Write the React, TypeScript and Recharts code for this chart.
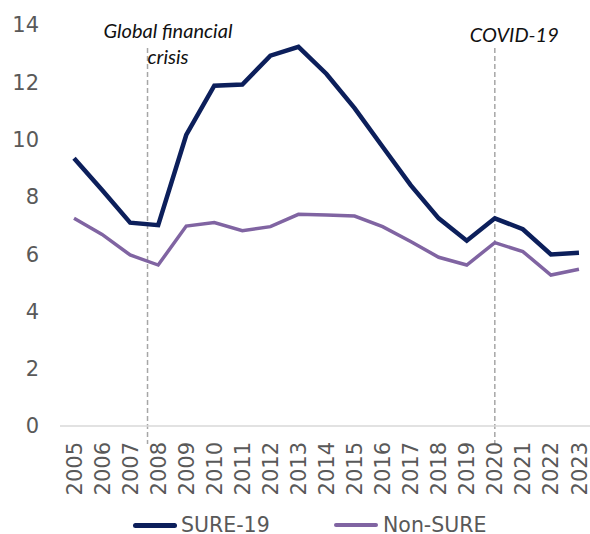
import React from 'react';
import { LineChart, Line, XAxis, YAxis, ReferenceLine, Legend } from 'recharts';

const years = [2005, 2006, 2007, 2008, 2009, 2010, 2011, 2012, 2013, 2014, 2015, 2016, 2017, 2018, 2019, 2020, 2021, 2022, 2023];
const sure19 = [9.35, 8.24, 7.1, 7.01, 10.16, 11.88, 11.92, 12.93, 13.24, 12.29, 11.1, 9.75, 8.41, 7.25, 6.47, 7.25, 6.87, 5.99, 6.05];
const nonSure = [7.25, 6.69, 5.97, 5.62, 6.98, 7.1, 6.82, 6.96, 7.39, 7.37, 7.33, 6.96, 6.44, 5.89, 5.62, 6.4, 6.09, 5.27, 5.47];
const yTicks = [0, 2, 4, 6, 8, 10, 12, 14];
const seriesNames = ['SURE-19', 'Non-SURE'];
const seriesColors = ['#0c1f5b', '#8064a2'];
const gfcX = 2007.62;
const covidX = 2020;
const eventTop = 13.2;
const eventBottom = -0.63;

const data = years.map((yr, i) => ({ year: yr, sure: sure19[i], non: nonSure[i] }));

const FONT = '"DejaVu Sans", Verdana, sans-serif';
const GRAY = '#595959';

const XTick = (props: any) => {
  const { x, y, payload } = props;
  return (
    <text
      x={0}
      y={0}
      dy="0.36em"
      transform={`translate(${x},${y}) rotate(-90)`}
      textAnchor="end"
      fontSize={21}
      fill={GRAY}
      fontFamily={FONT}
    >
      {payload.value}
    </text>
  );
};

const gfcLabel = (props: any) => {
  const vb = props.viewBox || {};
  const cx = vb.x + 20.5;
  return (
    <g>
      <text x={cx} y={vb.y - 10} textAnchor="middle" fontFamily="Lato, sans-serif" fontStyle="italic" fontSize={20} fill="#111">
        Global financial
      </text>
      <text x={cx} y={vb.y + 16} textAnchor="middle" fontFamily="Lato, sans-serif" fontStyle="italic" fontSize={20} fill="#111">
        crisis
      </text>
    </g>
  );
};

const covidLabel = (props: any) => {
  const vb = props.viewBox || {};
  return (
    <text x={vb.x - 25} y={vb.y - 6} textAnchor="start" fontFamily="Lato, sans-serif" fontStyle="italic" fontSize={20} fill="#111">
      COVID-19
    </text>
  );
};

const renderLegend = () => (
  <div style={{ display: 'flex', alignItems: 'center', marginLeft: 133, height: 24 }}>
    {seriesNames.map((name, i) => (
      <div key={name} style={{ display: 'flex', alignItems: 'center', width: i === 0 ? 201 : undefined }}>
        <span
          style={{
            display: 'inline-block',
            width: 44,
            height: i === 0 ? 5 : 4,
            borderRadius: 3,
            background: seriesColors[i],
            marginRight: i === 0 ? 4 : 5,
          }}
        />
        <span style={{ fontFamily: FONT, fontSize: 20.5, color: GRAY, lineHeight: '24px', whiteSpace: 'nowrap' }}>{name}</span>
      </div>
    ))}
  </div>
);

export default function App() {
  return (
    <div style={{ position: 'absolute', left: 0, top: 0, width: 590, height: 534, overflow: 'hidden', background: '#fff' }}>
      <LineChart width={596} height={534} data={data} margin={{ top: 25, right: 3, bottom: 0, left: 0 }}>
        <XAxis
          dataKey="year"
          type="number"
          domain={[2004.5, 2023.5]}
          ticks={years}
          interval={0}
          height={108}
          tickLine={false}
          tickSize={0}
          tickMargin={16}
          axisLine={{ stroke: '#d9d9d9', strokeWidth: 1.5 }}
          tick={<XTick />}
        />
        <YAxis
          domain={[0, 14]}
          ticks={yTicks}
          width={60}
          axisLine={false}
          tickLine={false}
          tickSize={0}
          tickMargin={21}
          tick={{ fontSize: 21, fill: GRAY, fontFamily: FONT }}
        />
        <ReferenceLine
          segment={[{ x: gfcX, y: eventTop }, { x: gfcX, y: eventBottom }]}
          ifOverflow="visible"
          stroke="#a6a6a6"
          strokeWidth={1.5}
          strokeDasharray="5 3"
          label={gfcLabel}
        />
        <ReferenceLine
          segment={[{ x: covidX, y: eventTop }, { x: covidX, y: eventBottom }]}
          ifOverflow="visible"
          stroke="#a6a6a6"
          strokeWidth={1.5}
          strokeDasharray="5 3"
          label={covidLabel}
        />
        <Line
          type="linear"
          dataKey="sure"
          name={seriesNames[0]}
          stroke={seriesColors[0]}
          strokeWidth={4.5}
          dot={false}
          activeDot={false}
          isAnimationActive={false}
        />
        <Line
          type="linear"
          dataKey="non"
          name={seriesNames[1]}
          stroke={seriesColors[1]}
          strokeWidth={3.5}
          dot={false}
          activeDot={false}
          isAnimationActive={false}
        />
        <Legend
          verticalAlign="middle"
          align="center"
          layout="horizontal"
          content={renderLegend}
          wrapperStyle={{ position: 'absolute', top: 513, left: 0, width: 596, margin: 0 }}
        />
      </LineChart>
    </div>
  );
}
